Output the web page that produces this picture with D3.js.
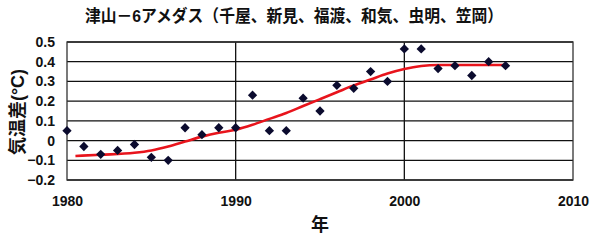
<!DOCTYPE html>
<html>
<head>
<meta charset="utf-8">
<script src="https://cdn.jsdelivr.net/npm/d3@7"></script>
<style>
  body { margin: 0; background: #fff; }
  text { font-family: "Liberation Sans", Arial, "Noto Sans CJK JP", sans-serif; font-weight: bold; fill: #111; }
</style>
</head>
<body>
<script>
// observed anomalies (diamonds)
const years = [1980,1981,1982,1983,1984,1985,1986,1987,1988,1989,1990,1991,1992,1993,1994,1995,1996,1997,1998,1999,2000,2001,2002,2003,2004,2005,2006];
const anomalies = [0.05,-0.03,-0.07,-0.05,-0.02,-0.085,-0.10,0.065,0.03,0.065,0.065,0.23,0.05,0.05,0.215,0.15,0.28,0.265,0.35,0.30,0.465,0.465,0.365,0.38,0.33,0.40,0.38];

// smoothed trend (red line)
const trendYears = [1980.5,1982,1984,1985,1986,1987,1988,1989,1990,1991,1992,1993,1994,1995,1996,1997,1998,1999,2000,2001,2002,2003,2004,2005,2006];
const trendValues = [-0.078,-0.072,-0.062,-0.05,-0.03,-0.005,0.02,0.04,0.055,0.08,0.11,0.14,0.175,0.21,0.245,0.28,0.31,0.34,0.363,0.378,0.383,0.383,0.383,0.383,0.383];

const xTicks = [1980,1990,2000,2010];
const yTicks = [-0.2,-0.1,0,0.1,0.2,0.3,0.4,0.5];

const title = "津山－6アメダス（千屋、新見、福渡、和気、虫明、笠岡）";
const yLabel = "気温差(°C)";
const xLabel = "年";

const W = 600, H = 240;
const margin = {left: 67, right: 27, top: 42, bottom: 60};

const svg = d3.select("body").append("svg").attr("width", W).attr("height", H);

const x = d3.scaleLinear().domain([1980, 2010]).range([margin.left, W - margin.right]);
const y = d3.scaleLinear().domain([-0.2, 0.5]).range([H - margin.bottom, margin.top]);

// horizontal grid
svg.append("g")
  .selectAll("line")
  .data(yTicks)
  .enter().append("line")
    .attr("x1", x(1980)).attr("x2", x(2010))
    .attr("y1", d => y(d)).attr("y2", d => y(d))
    .attr("stroke", "#111").attr("stroke-width", 1.3);

// vertical lines at decade ticks
svg.append("g")
  .selectAll("line")
  .data(xTicks.slice(1, -1))
  .enter().append("line")
    .attr("x1", d => x(d)).attr("x2", d => x(d))
    .attr("y1", y(0.5)).attr("y2", y(-0.2))
    .attr("stroke", "#111").attr("stroke-width", 1.3);

// frame
svg.append("rect")
  .attr("x", x(1980)).attr("y", y(0.5))
  .attr("width", x(2010) - x(1980)).attr("height", y(-0.2) - y(0.5))
  .attr("fill", "none").attr("stroke", "#333").attr("stroke-width", 1.3);

// axes (labels only)
const yAxis = svg.append("g")
  .attr("transform", `translate(${x(1980)},0)`)
  .call(d3.axisLeft(y).tickValues(yTicks).tickSize(0).tickPadding(12).tickFormat(d => d === 0 ? "0" : d3.format(".1f")(d).replace("-", "−")));
yAxis.select(".domain").remove();
yAxis.selectAll("text").style("font-size", "14px").attr("font-family", null);

const xAxis = svg.append("g")
  .attr("transform", `translate(0,${y(-0.2)})`)
  .call(d3.axisBottom(x).tickValues(xTicks).tickSize(0).tickPadding(16).tickFormat(d3.format("d")));
xAxis.select(".domain").remove();
xAxis.selectAll("text").style("font-size", "14px").attr("font-family", null);

// trend line
const trend = trendYears.map((t, i) => [t, trendValues[i]]);
svg.append("path")
  .datum(trend)
  .attr("fill", "none")
  .attr("stroke", "#e8141c")
  .attr("stroke-width", 2.6)
  .attr("d", d3.line().x(d => x(d[0])).y(d => y(d[1])).curve(d3.curveMonotoneX));

// diamonds
svg.append("g")
  .selectAll("path")
  .data(years.map((t, i) => [t, anomalies[i]]))
  .enter().append("path")
    .attr("transform", d => `translate(${x(d[0])},${y(d[1])})`)
    .attr("d", d3.symbol().type(d3.symbolDiamond2).size(55))
    .attr("fill", "#0b0b2e");

// titles
svg.append("text")
  .attr("x", 85).attr("y", 22)
  .attr("textLength", 418).attr("lengthAdjust", "spacingAndGlyphs")
  .style("font-size", "17px")
  .text(title);

svg.append("text")
  .attr("transform", `translate(24,112) rotate(-90)`)
  .attr("text-anchor", "middle")
  .style("font-size", "18px")
  .text(yLabel);

svg.append("text")
  .attr("x", 320).attr("y", 231)
  .attr("text-anchor", "middle")
  .style("font-size", "18px")
  .text(xLabel);
</script>
</body>
</html>
